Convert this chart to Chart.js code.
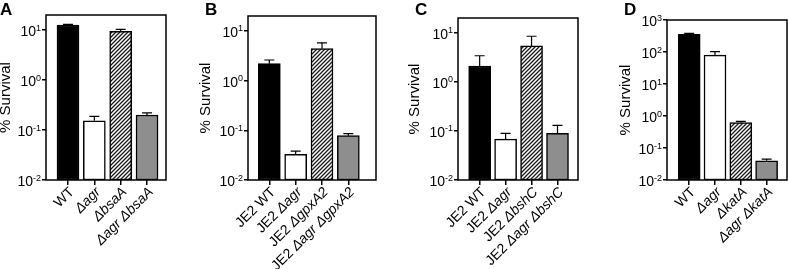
<!DOCTYPE html>
<html><head><meta charset="utf-8">
<script src="https://cdn.jsdelivr.net/npm/chart.js@4.4.1/dist/chart.umd.min.js"></script>
<style>
body{margin:0;background:#fff;width:788px;height:269px;overflow:hidden;position:relative}
canvas{position:absolute;top:0}
</style></head><body>
<canvas id="cA" width="190" height="269" style="left:0px"></canvas>
<canvas id="cB" width="200" height="269" style="left:190px"></canvas>
<canvas id="cC" width="200" height="269" style="left:390px"></canvas>
<canvas id="cD" width="198" height="269" style="left:590px"></canvas>
<script>
// ---- data ----
const categoriesA = ["WT", "Δagr", "ΔbsaA", "Δagr ΔbsaA"];
const survivalA = [12.6, 0.153, 9.4, 0.20];
const semA = [0.4, 0.035, 0.9, 0.02];

const categoriesB = ["JE2 WT", "JE2 Δagr", "JE2 ΔgpxA2", "JE2 Δagr ΔgpxA2"];
const survivalB = [2.2, 0.033, 4.4, 0.078];
const semB = [0.4, 0.005, 1.35, 0.008];

const categoriesC = ["JE2 WT", "JE2 Δagr", "JE2 ΔbshC", "JE2 Δagr ΔbshC"];
const survivalC = [2.1, 0.068, 5.4, 0.089];
const semC = [1.3, 0.021, 3.1, 0.041];

const categoriesD = ["WT", "Δagr", "ΔkatA", "Δagr ΔkatA"];
const survivalD = [355, 80, 0.62, 0.040];
const semD = [25, 23, 0.06, 0.0046];

const yTicksABC = [0.01, 0.1, 1, 10];
const yTicksD = [0.01, 0.1, 1, 10, 100, 1000];
const yTitle = "% Survival";

// ---- styling ----
const FONT = '"Liberation Sans", Arial, Helvetica, sans-serif';
function hatch() {
  const c = document.createElement('canvas');
  c.width = 4; c.height = 4;
  const g = c.getContext('2d');
  g.fillStyle = '#fff'; g.fillRect(0, 0, 4, 4);
  g.strokeStyle = '#1a1a1a'; g.lineWidth = 1.3;
  g.beginPath();
  g.moveTo(-1, 5); g.lineTo(5, -1);
  g.moveTo(-1, 1); g.lineTo(1, -1);
  g.moveTo(3, 5); g.lineTo(5, 3);
  g.stroke();
  return g.createPattern ? document.createElement('canvas').getContext('2d').createPattern(c, 'repeat') : null;
}
const fills = () => ['#000000', '#ffffff', hatch(), '#8e8e8e'];

const panels = [
  {id: 'cA', letter: 'A', cl: 0, w: 190, boxL: 46, boxR: 166, top: 15, yMax: 20, xMin: -0.835, xMax: 3.72, ticks: yTicksABC, cats: categoriesA, vals: survivalA, sem: semA, letterX: 0, titleOff: 40},
  {id: 'cB', letter: 'B', cl: 190, w: 200, boxL: 248, boxR: 376, top: 16, yMax: 20, xMin: -0.81, xMax: 4.05, ticks: yTicksABC, cats: categoriesB, vals: survivalB, sem: semB, letterX: 205, titleOff: 42},
  {id: 'cC', letter: 'C', cl: 390, w: 200, boxL: 458, boxR: 578, top: 18, yMax: 20, xMin: -0.835, xMax: 3.79, ticks: yTicksABC, cats: categoriesC, vals: survivalC, sem: semC, letterX: 415, titleOff: 43},
  {id: 'cD', letter: 'D', cl: 590, w: 198, boxL: 667, boxR: 787, top: 20, yMax: 1000, xMin: -0.86, xMax: 3.79, ticks: yTicksD, cats: categoriesD, vals: survivalD, sem: semD, letterX: 624, titleOff: 41},
];

const decor = {
  id: 'decor',
  afterDatasetsDraw(chart, args, o) {
    const ctx = chart.ctx, a = chart.chartArea;
    const xs = chart.scales.x, ys = chart.scales.y;
    const p = o.panel;
    ctx.save();
    // error bars
    ctx.strokeStyle = '#000'; ctx.lineWidth = 1.2;
    p.vals.forEach((v, i) => {
      const x = xs.getPixelForValue(i);
      const y0 = ys.getPixelForValue(v);
      const y1 = ys.getPixelForValue(v + p.sem[i]);
      ctx.beginPath();
      ctx.moveTo(x, y0); ctx.lineTo(x, y1);
      ctx.moveTo(x - 5, y1); ctx.lineTo(x + 5, y1);
      ctx.stroke();
    });
    // box
    ctx.lineWidth = 1.5;
    ctx.strokeRect(a.left, a.top, a.right - a.left, a.bottom - a.top);
    // y tick labels
    ctx.fillStyle = '#000';
    p.ticks.forEach(t => {
      const y = ys.getPixelForValue(t);
      const e = String(Math.round(Math.log10(t))).replace('-', '-');
      ctx.font = '9px ' + FONT;
      const ew = ctx.measureText(e).width;
      ctx.textAlign = 'right'; ctx.textBaseline = 'alphabetic';
      ctx.fillText(e, a.left - 5, y + 0.5);
      ctx.font = '14px ' + FONT;
      ctx.fillText('10', a.left - 5 - ew, y + 6);
    });
    // y title
    ctx.save();
    ctx.translate(a.left - p.titleOff, (a.top + a.bottom) / 2);
    ctx.rotate(-Math.PI / 2);
    ctx.font = '15px ' + FONT;
    ctx.textAlign = 'center'; ctx.textBaseline = 'middle';
    ctx.fillText(yTitle, 0, 0);
    ctx.restore();
    // x labels (rotated, words starting with Δ in italic)
    p.cats.forEach((lab, i) => {
      const x = xs.getPixelForValue(i);
      const parts = lab.split(' ').map((w, k, arr) => ({t: w + (k < arr.length - 1 ? ' ' : ''), it: w.startsWith('Δ')}));
      let total = 0;
      parts.forEach(pt => { ctx.font = (pt.it ? 'italic ' : '') + '14px ' + FONT; pt.w = ctx.measureText(pt.t).width; total += pt.w; });
      ctx.save();
      ctx.translate(x + 4, a.bottom + 10);
      ctx.rotate(-Math.PI / 4);
      ctx.textAlign = 'left'; ctx.textBaseline = 'middle';
      let cx = -total;
      parts.forEach(pt => { ctx.font = (pt.it ? 'italic ' : '') + '14px ' + FONT; ctx.fillText(pt.t, cx, 0); cx += pt.w; });
      ctx.restore();
    });
    // panel letter
    ctx.font = 'bold 17px ' + FONT;
    ctx.textAlign = 'left'; ctx.textBaseline = 'alphabetic';
    ctx.fillText(p.letter, p.letterX - p.cl, 15);
    ctx.restore();
  }
};

panels.forEach(p => {
  const canvas = document.getElementById(p.id);
  const ctx = canvas.getContext('2d');
  // hatch pattern on this canvas' context
  const pc = document.createElement('canvas'); pc.width = 4; pc.height = 4;
  const g = pc.getContext('2d');
  g.fillStyle = '#fff'; g.fillRect(0, 0, 4, 4);
  g.strokeStyle = '#1a1a1a'; g.lineWidth = 1.3;
  g.beginPath();
  g.moveTo(-1, 5); g.lineTo(5, -1);
  g.moveTo(-1, 1); g.lineTo(1, -1);
  g.moveTo(3, 5); g.lineTo(5, 3);
  g.stroke();
  const pattern = ctx.createPattern(pc, 'repeat');
  const colors = ['#000000', '#ffffff', pattern, '#8e8e8e'];

  new Chart(canvas, {
    type: 'bar',
    data: {
      labels: p.cats,
      datasets: [{
        data: p.vals.map((v, i) => ({x: i, y: v})),
        backgroundColor: colors,
        borderColor: '#000',
        borderWidth: 1.5,
        borderSkipped: false,
        barThickness: 22
      }]
    },
    options: {
      responsive: false,
      animation: false,
      events: [],
      layout: {padding: {left: 0, right: p.w - (p.boxR - p.cl), top: p.top, bottom: 0}},
      plugins: {legend: {display: false}, tooltip: {enabled: false}, decor: {panel: p}},
      scales: {
        x: {
          type: 'linear', min: p.xMin, max: p.xMax, offset: false,
          afterBuildTicks: s => { s.ticks = p.vals.map((v, i) => ({value: i})); },
          afterFit: s => { s.height = 269 - 180; },
          ticks: {display: false},
          grid: {display: true, drawOnChartArea: false, drawTicks: true, tickLength: 5, color: '#000', lineWidth: 1.5, offset: false},
          border: {display: false}
        },
        y: {
          type: 'logarithmic', min: 0.01, max: p.yMax,
          afterBuildTicks: s => { s.ticks = p.ticks.map(v => ({value: v})); },
          afterFit: s => { s.width = p.boxL - p.cl; },
          ticks: {display: false},
          grid: {display: true, drawOnChartArea: false, drawTicks: true, tickLength: 4, color: '#000', lineWidth: 1.5},
          border: {display: false}
        }
      }
    },
    plugins: [decor]
  });
});
</script>
</body></html>
